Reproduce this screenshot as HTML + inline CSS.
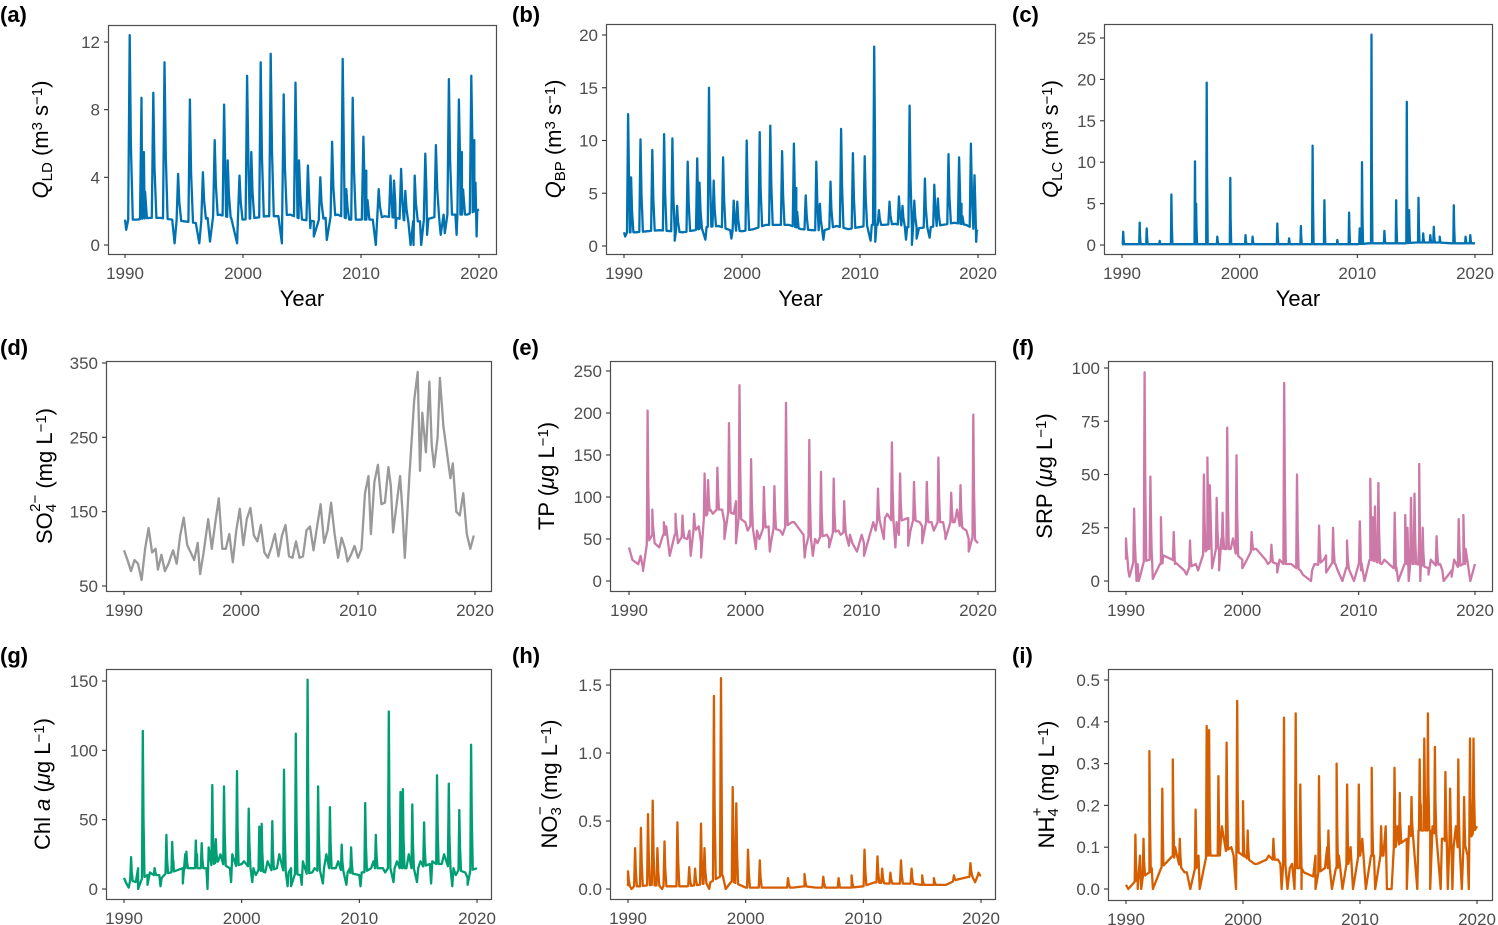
<!DOCTYPE html>
<html><head><meta charset="utf-8"><style>
html,body{margin:0;padding:0;background:#fff}
svg{display:block}
text{font-family:"Liberation Sans","DejaVu Sans",sans-serif}
</style></head><body>
<svg id="fig" width="1498" height="925" viewBox="0 0 1498 925" xmlns="http://www.w3.org/2000/svg"></svg>
<script>
// ---- data (years 1990-2020) ----
const years = [1990,1991,1992,1993,1994,1995,1996,1997,1998,1999,2000,2001,2002,2003,2004,2005,2006,2007,2008,2009,2010,2011,2012,2013,2014,2015,2016,2017,2018,2019,2020];
// (a) Q_LD
const aBase = [1.5,1.5,1.6,1.6,1.5,1.4,1.3,1.6,1.8,1.6,1.5,1.6,1.7,1.7,1.8,1.5,1.4,1.6,1.8,1.5,1.5,1.5,1.7,1.6,1.4,1.4,1.6,1.8,1.8,1.8,2.1];
const aMid = [];
const aPeakT = [1990.4,1991.4,1991.6,1992.4,1993.35,1994.5,1995.5,1996.6,1997.6,1998.4,1998.7,1999.7,2000.35,2000.7,2001.5,2002.35,2003.45,2004.45,2004.75,2005.5,2006.55,2007.55,2008.45,2008.75,2009.3,2010.2,2010.45,2011.5,2012.5,2012.8,2013.4,2013.75,2014.55,2015.45,2016.35,2017.45,2018.3,2018.55,2019.35,2019.6];
const aPeakV = [12.4,8.7,5.5,9.0,10.8,4.2,8.6,4.3,6.2,8.3,5,4.1,10,5.5,10.8,11.3,8.9,9.6,5,4.7,4,6.1,11,3.3,8.7,6.4,4.4,3.3,4.1,3.8,4.5,3.2,4.1,5.4,5.9,9.8,8.6,5.5,10,6.2];
const aDipT = [1990.1,1994.2,1996.3,1997.2,1999.5,2003.3,2005.7,2006.0,2007.1,2011.25,2012.95,2014.2,2014.45,2015.1,2015.6,2016.75,2017.1,2018.1,2019.8];
const aDipV = [0.9,0.1,0.1,0.2,0.1,0.1,1.0,0.5,0.3,0,1.0,0,0,0,0.6,0.6,0.7,0.6,0.5];
// (b) Q_BP
const bBase = [1.3,1.3,1.4,1.5,1.4,1.3,1.5,1.8,1.9,1.5,1.4,1.6,2.0,2.0,2.0,1.6,1.5,1.5,1.9,1.6,1.8,2.0,2.0,2.1,1.8,1.7,1.8,2.0,2.2,2.0,1.4];
const bMid = [];
const bPeakT = [1990.35,1990.6,1991.4,1992.4,1993.4,1994.1,1994.5,1995.4,1996.2,1996.4,1997.2,1997.6,1998.4,1999.3,1999.6,2000.4,2001.5,2002.4,2003.4,2004.4,2004.6,2005.4,2006.3,2006.6,2007.5,2008.4,2009.4,2010.4,2011.2,2011.6,2012.5,2013.3,2013.6,2014.2,2014.6,2015.5,2016.3,2016.6,2017.5,2018.4,2018.6,2019.4,2019.7];
const bPeakV = [12.5,6.5,10.1,9.1,10.6,10.2,3.8,8,8.3,6,15,6.2,8.4,4.3,4.2,10,10.8,11.4,9,9.7,5.5,4.8,8,4,6.1,11.1,8.8,8.5,18.9,3.4,4.2,4.7,3.8,13.3,4.3,6.4,5.8,4.5,8.7,8.4,4,9.7,6.7];
const bDipT = [1990.1,1994.3,1996.9,1999.1,2006.9,2010.9,2011.3,2013.9,2014.4,2014.8,2015.9,2019.85];
const bDipV = [0.9,0.5,0.6,0.7,0.6,0.5,0.4,0.6,0.1,0.7,0.8,0.4];
// (c) Q_LC
const cBase = [0.1,0.1,0.1,0.1,0.1,0.1,0.1,0.1,0.1,0.1,0.1,0.1,0.1,0.1,0.1,0.1,0.1,0.1,0.1,0.1,0.1,0.2,0.2,0.2,0.2,0.3,0.3,0.3,0.2,0.2,0.2];
const cMid = [];
const cPeakT = [1990.1,1991.5,1992.1,1993.2,1994.2,1996.2,1996.3,1997.2,1998.1,1999.2,2000.5,2001.1,2003.2,2004.2,2005.2,2006.2,2007.2,2008.3,2009.3,2010.2,2010.4,2011.2,2012.3,2013.3,2014.2,2014.4,2015.2,2015.6,2016.2,2016.5,2017.0,2018.2,2019.2,2019.6];
const cPeakV = [1.6,2.7,2,0.5,6.1,10.1,5,19.6,1.0,8.1,1.2,1.0,2.6,0.8,2.3,12,5.4,0.6,3.9,2,10,25.4,1.7,5.4,17.3,4.2,5.7,1.4,1.2,2.2,1,4.8,1,1.2];
const cDipT = [];
const cDipV = [];
// (d) SO4
const dT = [1990,1990.3,1990.6,1990.9,1991.2,1991.5,1991.8,1992.1,1992.4,1992.7,1992.9,1993.2,1993.5,1993.8,1994.2,1994.5,1994.8,1995.1,1995.4,1995.7,1996.0,1996.3,1996.5,1996.8,1997.2,1997.5,1997.8,1998.1,1998.4,1998.7,1999.0,1999.3,1999.6,1999.9,2000.2,2000.5,2000.8,2001.1,2001.4,2001.7,2002.0,2002.3,2002.6,2002.9,2003.2,2003.5,2003.8,2004.1,2004.4,2004.7,2005.0,2005.3,2005.6,2005.9,2006.2,2006.5,2006.8,2007.1,2007.4,2007.7,2008.0,2008.3,2008.6,2008.9,2009.1,2009.4,2009.7,2010.0,2010.3,2010.6,2010.9,2011.1,2011.4,2011.7,2012.0,2012.3,2012.6,2012.8,2013.0,2013.3,2013.6,2013.8,2014.0,2014.4,2014.8,2015.1,2015.3,2015.5,2015.8,2016.1,2016.3,2016.5,2016.8,2017.0,2017.3,2017.6,2017.9,2018.1,2018.4,2018.7,2019.0,2019.3,2019.6,2019.9];
const dV = [98,85,70,85,80,58,100,128,95,100,72,92,70,80,98,80,118,142,105,95,85,108,66,95,140,100,135,168,100,100,120,82,125,154,105,140,155,118,110,132,95,88,102,120,90,118,132,90,88,110,88,90,125,130,98,130,160,108,125,162,120,88,115,100,83,92,104,88,100,175,198,120,190,213,160,162,210,185,122,160,198,150,88,200,300,338,205,283,230,325,240,210,250,330,265,230,195,215,150,145,175,120,100,118];
// (e) TP
const eBase = [40,30,55,55,55,50,65,85,85,80,70,60,65,60,70,55,50,55,60,55,55,70,75,70,75,70,70,70,70,60,45];
const eMid = [30,15,45,65,45,60,45,80,70,95,60,50,45,55,70,40,45,50,55,45,45,60,80,55,60,65,60,55,85,50];
const ePeakT = [1991.6,1992.0,1993.0,1994.0,1994.6,1995.6,1996.5,1996.8,1997.6,1998.6,1999.5,2000.5,2001.6,2002.5,2003.5,2005.5,2006.5,2007.6,2008.5,2011.4,2012.6,2013.3,2014.5,2015.6,2016.6,2017.7,2018.5,2019.6];
const ePeakV = [203,85,70,80,78,80,128,120,135,188,233,145,112,113,212,168,130,122,95,110,165,128,118,118,147,105,114,198];
const eDipT = [1990.3,1990.8,1991.2,1992.6,1993.5,1995.3,1996.2,1998.2,1999.2,2000.9,2002.1,2005.1,2005.8,2007.2,2008.9,2009.6,2010.2,2011.9,2012.9,2014.0,2015.2,2017.2,2019.2];
const eDipV = [25,20,12,40,30,30,28,50,45,38,35,28,30,40,42,35,30,50,40,42,45,50,35];
// (f) SRP
const fBase = [10,8,10,8,10,5,8,15,15,15,10,15,10,8,8,5,5,10,8,6,8,10,8,6,8,8,6,8,5,8,8];
const fMid = [5,2,15,12,8,3,5,45,20,20,8,15,8,10,8,3,8,12,5,5,5,30,10,5,25,20,10,5,10,15];
const fPeakT = [1990.0,1990.7,1991.6,1992.1,1993.0,1994.1,1995.5,1996.7,1997.0,1997.8,1998.3,1998.7,1999.5,2000.8,2002.5,2003.6,2004.7,2006.6,2007.8,2009.0,2010.1,2011.0,2011.4,2011.7,2013.1,2014.0,2014.5,2014.8,2015.2,2015.5,2016.7,2018.6,2019.0];
const fPeakV = [20,34,98,49,30,23,19,50,58,39,32,72,59,23,17,93,50,26,25,19,28,48,35,46,32,31,39,41,55,25,21,29,31];
const fDipT = [1990.3,1990.9,1991.1,1992.3,1995.2,1997.4,1998.0,2000.0,2003.0,2005.9,2007.2,2008.6,2009.6,2010.5,2011.5,2013.4,2014.3,2015.3,2016.0,2017.3,2018.0,2019.6];
const fDipV = [2,0,0,1,3,6,5,6,4,0,4,0,0,0,12,0,0,0,3,0,2,0];
// (g) Chl a
const gBase = [8,5,10,10,12,15,15,15,20,15,18,15,12,15,12,10,12,15,15,12,10,15,15,15,15,15,18,18,15,12,15];
const gMid = [4,15,12,8,20,25,25,30,25,25,20,10,20,25,15,20,15,25,20,15,12,20,12,20,25,20,20,25,10,8];
const gPeakT = [1990.6,1991.6,1992.6,1993.6,1994.1,1995.3,1996.1,1996.6,1997.5,1997.8,1998.5,1999.6,2000.6,2001.5,2001.7,2002.6,2003.6,2004.6,2005.6,2006.5,2007.5,2008.5,2009.3,2010.5,2011.4,2012.5,2013.5,2013.7,2014.5,2015.5,2016.6,2017.6,2018.5,2019.5];
const gPeakV = [23,114,15,39,34,27,35,33,75,36,74,85,58,45,47,49,86,112,151,74,59,32,30,62,39,128,70,72,61,48,82,76,57,104];
const gDipT = [1990.4,1991.2,1992.0,1993.1,1995.0,1997.1,1999.1,2000.9,2003.9,2004.2,2005.1,2006.9,2008.9,2010.1,2012.9,2014.9,2016.1,2017.9,2019.2];
const gDipV = [1,0,3,2,4,0,5,5,2,2,3,4,3,2,5,5,4,2,3];
// (h) NO3
const hBase = [0.02,0.02,0.03,0.02,0.02,0.02,0.03,0.05,0.1,0.05,0.01,0.01,0.01,0.01,0.01,0.02,0.01,0.01,0.01,0.01,0.02,0.05,0.04,0.04,0.04,0.03,0.03,0.03,0.07,0.09,0.1];
const hMid = [];
const hPeakT = [1990.0,1990.6,1991.1,1991.7,1992.1,1992.5,1993.1,1994.2,1995.2,1995.7,1996.2,1996.5,1997.3,1997.9,1998.9,1999.2,2000.2,2001.2,2003.6,2005.0,2006.6,2007.9,2009.0,2010.1,2011.2,2011.6,2012.3,2013.2,2014.1,2015.0,2016.0,2017.7,2019.1,2019.8];
const hPeakV = [0.13,0.3,0.45,0.55,0.65,0.3,0.35,0.49,0.16,0.15,0.48,0.3,1.42,1.55,0.75,0.63,0.29,0.21,0.08,0.11,0.09,0.08,0.1,0.29,0.24,0.15,0.12,0.21,0.15,0.1,0.08,0.1,0.19,0.12];
const hDipT = [1990.3,1992.9,1996.9,1998.3,2019.5];
const hDipV = [0,0,0,0,0.05];
// (i) NH4
const iBase = [0.01,0.02,0.04,0.05,0.08,0.04,0.05,0.08,0.08,0.1,0.08,0.06,0.07,0.07,0.05,0.05,0.03,0.05,0.05,0.06,0.08,0.08,0.08,0.1,0.12,0.14,0.14,0.12,0.1,0.1,0.15];
const iMid = [0.0,0.08,0.05,0.06,0.1,0.04,0.08,0.1,0.15,0.08,0.08,0.06,0.08,0.06,0.06,0.04,0.08,0.1,0.08,0.1,0.12,0.08,0.15,0.15,0.15,0.2,0.15,0.12,0.15,0.08];
const iPeakT = [1990.8,1991.5,1992.0,1993.1,1994.0,1994.6,1995.95,1996.9,1997.1,1997.9,1998.6,1999.5,2000.0,2000.4,2002.6,2003.5,2004.5,2004.9,2006.5,2007.3,2008.0,2008.9,2009.9,2011.0,2011.8,2012.95,2013.4,2014.4,2015.1,2015.5,2015.8,2016.4,2017.3,2017.7,2018.4,2018.9,2019.4,2019.7];
const iPeakV = [0.13,0.12,0.33,0.24,0.31,0.12,0.19,0.39,0.38,0.27,0.35,0.45,0.21,0.14,0.12,0.41,0.42,0.25,0.27,0.14,0.3,0.25,0.25,0.29,0.15,0.29,0.23,0.22,0.31,0.36,0.42,0.34,0.28,0.24,0.31,0.22,0.36,0.36];
const iDipT = [1991.0,1991.3,1992.3,1995.5,1996.3,1999.4,2003.3,2003.8,2004.4,2005.0,2006.2,2007.6,2008.5,2009.4,2010.5,2011.3,2012.3,2012.7,2014.0,2014.9,2016.0,2016.9,2017.5,2017.9,2018.7,2019.3];
const iDipV = [0,0,0,0,0,0,0,0,0,0,0,0,0,0,0,0,0,0,0,0,0,0,0,0,0,0];
const xTickLabels = ['1990','2000','2010','2020'];
const xTicks = [1990,2000,2010,2020];

const NS='http://www.w3.org/2000/svg';
const svg=document.getElementById('fig');
function mk(tag,attrs,parent){const e=document.createElementNS(NS,tag);for(const k in attrs)e.setAttribute(k,attrs[k]);(parent||svg).appendChild(e);return e;}

function spikeSeries(base,mid,pT,pV,dT_,dV_,w){
  const bAt=t=>{const i=Math.min(Math.max(Math.floor(t-1990),0),years.length-2);const f=t-years[i];return base[i]+(base[i+1]-base[i])*f;};
  const pts=[];
  years.forEach((y,i)=>pts.push([y,base[i]]));
  mid.forEach((v,i)=>pts.push([years[i]+0.2,v]));
  pT.forEach((t,i)=>{
    const b1=bAt(t-w), b2=bAt(t+w*0.8);
    pts.push([t-w,b1]);pts.push([t,pV[i]]);
    pts.push([t+w*0.8,b2+0.4*(pV[i]-b2)]);
    pts.push([t+w*2,bAt(t+w*2)]);
  });
  dT_.forEach((t,i)=>{pts.push([t,dV_[i]]);});
  pts.sort((p,q)=>p[0]-q[0]);
  return pts.filter(p=>p[0]>=1990&&p[0]<=2020);
}

const panels=[
 {id:'a',lab:'(a)',lx:0,ly:22,box:[108,25,496,254],xp:[125,479],ticks:[0,4,8,12],tl:['0','4','8','12'],yr:[0,12],yp:[245,42],col:'#0072B2',tx:40,year:true,
  pts:()=>spikeSeries(aBase,aMid,aPeakT,aPeakV,aDipT,aDipV,0.13),title:'<tspan font-style="italic">Q</tspan><tspan baseline-shift="-25%" font-size="15">LD</tspan><tspan> (m</tspan><tspan baseline-shift="40%" font-size="15">3</tspan><tspan> s</tspan><tspan baseline-shift="40%" font-size="15">−1</tspan><tspan>)</tspan>'},
 {id:'b',lab:'(b)',lx:512,ly:22,box:[606,24,995,254],xp:[624,978],ticks:[0,5,10,15,20],tl:['0','5','10','15','20'],yr:[0,20],yp:[246,35],col:'#0072B2',tx:553,year:true,
  pts:()=>spikeSeries(bBase,bMid,bPeakT,bPeakV,bDipT,bDipV,0.1),title:'<tspan font-style="italic">Q</tspan><tspan baseline-shift="-25%" font-size="15">BP</tspan><tspan> (m</tspan><tspan baseline-shift="40%" font-size="15">3</tspan><tspan> s</tspan><tspan baseline-shift="40%" font-size="15">−1</tspan><tspan>)</tspan>'},
 {id:'c',lab:'(c)',lx:1012,ly:22,box:[1104,24,1492,254],xp:[1122,1475],ticks:[0,5,10,15,20,25],tl:['0','5','10','15','20','25'],yr:[0,25],yp:[245,38],col:'#0072B2',tx:1050,year:true,
  pts:()=>spikeSeries(cBase,cMid,cPeakT,cPeakV,cDipT,cDipV,0.04),title:'<tspan font-style="italic">Q</tspan><tspan baseline-shift="-25%" font-size="15">LC</tspan><tspan> (m</tspan><tspan baseline-shift="40%" font-size="15">3</tspan><tspan> s</tspan><tspan baseline-shift="40%" font-size="15">−1</tspan><tspan>)</tspan>'},
 {id:'d',lab:'(d)',lx:0,ly:355,box:[106,361,491,591],xp:[124,475],ticks:[50,150,250,350],tl:['50','150','250','350'],yr:[50,350],yp:[586,363],col:'#999999',tx:44,
  pts:()=>dT.map((t,i)=>[t,dV[i]]),title:'<tspan>SO</tspan><tspan baseline-shift="-25%" font-size="15">4</tspan><tspan dx="-8" dy="-12" font-size="15">2−</tspan><tspan dy="12"> (mg L</tspan><tspan baseline-shift="40%" font-size="15">−1</tspan><tspan>)</tspan>'},
 {id:'e',lab:'(e)',lx:512,ly:355,box:[610,361,995,591],xp:[629,978],ticks:[0,50,100,150,200,250],tl:['0','50','100','150','200','250'],yr:[0,250],yp:[581,371],col:'#CC79A7',tx:546,
  pts:()=>spikeSeries(eBase,eMid,ePeakT,ePeakV,eDipT,eDipV,0.07),title:'<tspan>TP (</tspan><tspan font-style="italic">μ</tspan><tspan>g L</tspan><tspan baseline-shift="40%" font-size="15">−1</tspan><tspan>)</tspan>'},
 {id:'f',lab:'(f)',lx:1012,ly:355,box:[1108,361,1492,591],xp:[1126,1475],ticks:[0,25,50,75,100],tl:['0','25','50','75','100'],yr:[0,100],yp:[581,368],col:'#CC79A7',tx:1044,
  pts:()=>spikeSeries(fBase,fMid,fPeakT,fPeakV,fDipT,fDipV,0.07),title:'<tspan>SRP (</tspan><tspan font-style="italic">μ</tspan><tspan>g L</tspan><tspan baseline-shift="40%" font-size="15">−1</tspan><tspan>)</tspan>'},
 {id:'g',lab:'(g)',lx:0,ly:663,box:[106,669,491,899],xp:[124,477],ticks:[0,50,100,150],tl:['0','50','100','150'],yr:[0,150],yp:[889,681],col:'#009E73',tx:42,
  pts:()=>spikeSeries(gBase,gMid,gPeakT,gPeakV,gDipT,gDipV,0.07),title:'<tspan>Chl </tspan><tspan font-style="italic">a</tspan><tspan> (</tspan><tspan font-style="italic">μ</tspan><tspan>g L</tspan><tspan baseline-shift="40%" font-size="15">−1</tspan><tspan>)</tspan>'},
 {id:'h',lab:'(h)',lx:512,ly:663,box:[610,669,995,899],xp:[628,981],ticks:[0,0.5,1,1.5],tl:['0.0','0.5','1.0','1.5'],yr:[0,1.5],yp:[889,685],col:'#D55E00',tx:549,
  pts:()=>spikeSeries(hBase,hMid,hPeakT,hPeakV,hDipT,hDipV,0.08),title:'<tspan>NO</tspan><tspan baseline-shift="-25%" font-size="15">3</tspan><tspan dx="-8" dy="-12" font-size="15">−</tspan><tspan dy="12"> (mg L</tspan><tspan baseline-shift="40%" font-size="15">−1</tspan><tspan>)</tspan>'},
 {id:'i',lab:'(i)',lx:1012,ly:663,box:[1108,669,1492,900],xp:[1126,1477],ticks:[0,0.1,0.2,0.3,0.4,0.5],tl:['0.0','0.1','0.2','0.3','0.4','0.5'],yr:[0,0.5],yp:[889,680],col:'#D55E00',tx:1046,
  pts:()=>spikeSeries(iBase,iMid,iPeakT,iPeakV,iDipT,iDipV,0.06),title:'<tspan>NH</tspan><tspan baseline-shift="-25%" font-size="15">4</tspan><tspan dx="-8" dy="-12" font-size="15">+</tspan><tspan dy="12"> (mg L</tspan><tspan baseline-shift="40%" font-size="15">−1</tspan><tspan>)</tspan>'}
];

panels.forEach(p=>{
  const g=mk('g',{});
  
  
  const X=t=>p.xp[0]+(t-1990)/30*(p.xp[1]-p.xp[0]);
  const Y=v=>p.yp[0]+(v-p.yr[0])/(p.yr[1]-p.yr[0])*(p.yp[1]-p.yp[0]);
  const [x0,y0,x1,y1]=p.box;
  const lab=mk('text',{x:p.lx,y:p.ly,'font-size':22,'font-weight':'bold',fill:'#000'},g);lab.textContent=p.lab;
  
  
  const pts=p.pts();
  const d=pts.map((q,i)=>(i?'L':'M')+X(q[0]).toFixed(1)+' '+Y(q[1]).toFixed(1)).join(' ');
  const line=mk('path',{d:d,fill:'none',stroke:p.col,'stroke-width':2.3,'stroke-linejoin':'round'},g);
  
  
  const fr=mk('rect',{x:x0+0.5,y:y0+0.5,width:x1-x0,height:y1-y0,fill:'none',stroke:'#4d4d4d','stroke-width':1.2},g);
  
  
  p.ticks.forEach((v,i)=>{
    const y=Y(v);
    mk('line',{x1:x0-4,x2:x0,y1:y,y2:y,stroke:'#333','stroke-width':1.1},g);
    const t=mk('text',{x:x0-8,y:y+6,'font-size':17,fill:'#4d4d4d','text-anchor':'end'},g);t.textContent=p.tl[i];
    
    
  });
  xTicks.forEach((v,i)=>{
    const x=X(v);
    mk('line',{x1:x,x2:x,y1:y1,y2:y1+4,stroke:'#333','stroke-width':1.1},g);
    const t=mk('text',{x:x,y:y1+25,'font-size':17,fill:'#4d4d4d','text-anchor':'middle'},g);t.textContent=xTickLabels[i];
    
    
  });
  const cy=(y0+y1)/2;
  const tt=mk('text',{x:0,y:0,'font-size':22,fill:'#000','text-anchor':'middle',transform:'translate('+(p.tx+8)+','+cy+') rotate(-90)'},g);
  tt.innerHTML=p.title;
  
  
  if(p.year){
    const yt=mk('text',{x:(x0+x1)/2,y:y1+52,'font-size':22,fill:'#000','text-anchor':'middle'},g);yt.textContent='Year';
    
    
  }
});
</script>
</body></html>
